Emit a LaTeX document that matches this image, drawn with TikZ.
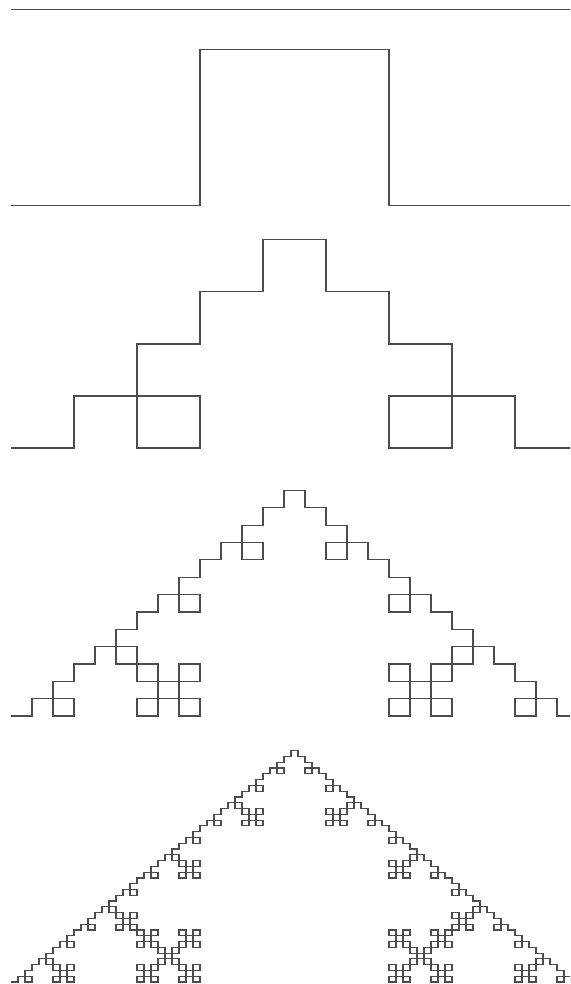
\documentclass[tikz,border=0pt]{standalone}
\usepackage{tikz}
\usetikzlibrary{lindenmayersystems}

\pgfdeclarelindenmayersystem{quadkoch}{
  \rule{F -> F+F-F-F+F}
}

\begin{document}
\begin{tikzpicture}[
  x=0.5pt, y=-0.5pt,
  kochline/.style={draw=black!70, line width=0.6pt, line join=miter}
]
\useasboundingbox (0,0) rectangle (570,984);
\clip (0,0) rectangle (570,984);
\foreach \n/\ybase in {0/9.5, 1/205.5, 2/448, 3/716, 4/982} {
  \pgfmathsetmacro{\seglen}{283.5/3^\n}
  \begin{scope}[shift={(11,\ybase)}, yscale=0.826]
    \draw[kochline, l-system={quadkoch, axiom=F, order=\n, step=\seglen pt, angle=90}]
      (0,0) l-system;
  \end{scope}
}
\end{tikzpicture}
\end{document}
